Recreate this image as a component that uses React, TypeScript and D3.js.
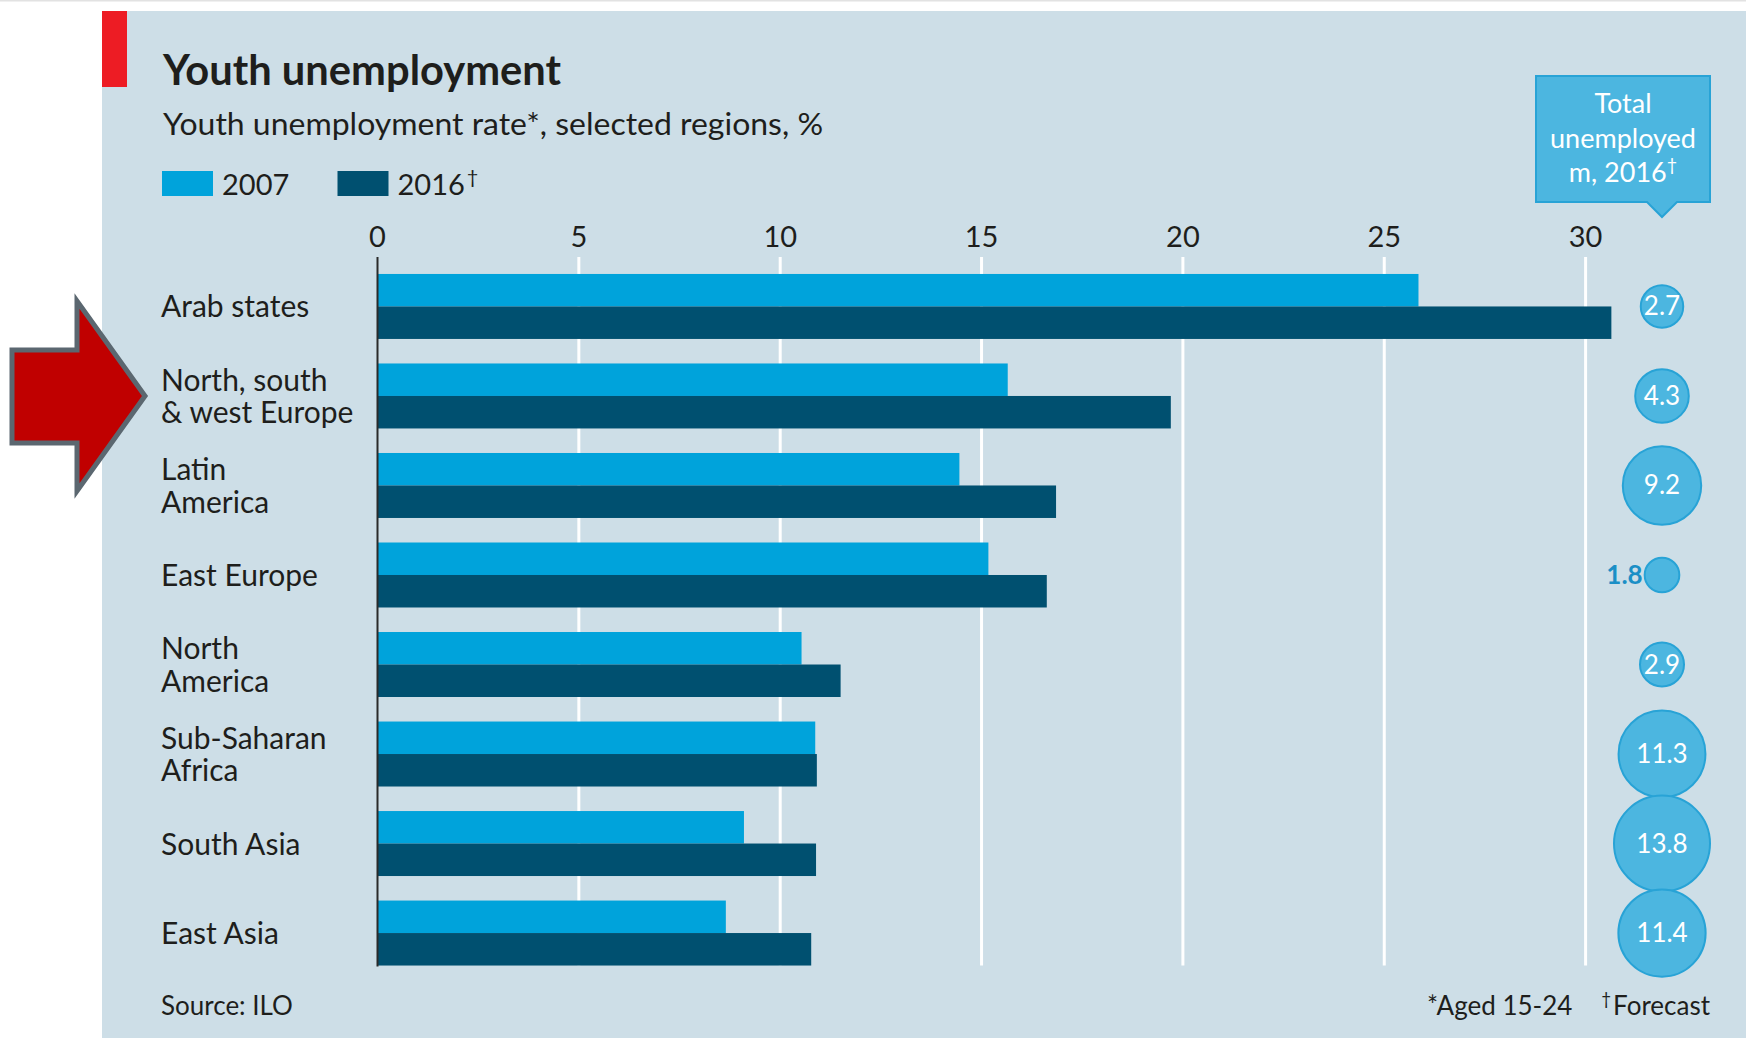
import { useRef, useEffect } from 'react';
import * as d3 from 'd3';

// Data
const regionLines: string[][] = [
  ['Arab states'],
  ['North, south', '& west Europe'],
  ['Latin', 'America'],
  ['East Europe'],
  ['North', 'America'],
  ['Sub-Saharan', 'Africa'],
  ['South Asia'],
  ['East Asia'],
];
const regions = regionLines.map(l => l.join(' '));
const series = ['2007', '2016'];
const rate2007 = [25.85, 15.65, 14.45, 15.17, 10.53, 10.87, 9.1, 8.65];
const rate2016 = [30.64, 19.7, 16.85, 16.62, 11.5, 10.91, 10.89, 10.77];
const totalUnemployed = [2.7, 4.3, 9.2, 1.8, 2.9, 11.3, 13.8, 11.4];
const xTicks = [0, 5, 10, 15, 20, 25, 30];

const W = 1746;
const H = 1038;
const FONT = 'Lato, "Liberation Sans", sans-serif';
const INK = '#1e1e1c';
const LIGHT = '#00a3db';
const DARK = '#005070';
const BUBBLE = '#4cb6e0';
const BUBBLE_EDGE = '#28a3d6';

export default function App() {
  const ref = useRef<SVGSVGElement>(null);

  useEffect(() => {
    if (!ref.current) return;
    const svg = d3.select(ref.current);
    svg.selectAll('*').remove();

    // background + panel
    svg.append('rect').attr('width', W).attr('height', H).attr('fill', '#fff');
    svg.append('line')
      .attr('x1', 0).attr('x2', W).attr('y1', 0.5).attr('y2', 0.5)
      .attr('stroke', '#e2e2e2').attr('stroke-width', 2);
    svg.append('rect')
      .attr('x', 102).attr('y', 11).attr('width', W - 102).attr('height', H - 11)
      .attr('fill', '#cddee7');
    svg.append('rect')
      .attr('x', 102).attr('y', 11).attr('width', 25).attr('height', 76)
      .attr('fill', '#ed1c24');

    // title block
    svg.append('text')
      .attr('x', 163).attr('y', 85)
      .attr('font-family', FONT).attr('font-weight', 700).attr('font-size', 42)
      .attr('fill', INK)
      .attr('textLength', 398).attr('lengthAdjust', 'spacingAndGlyphs')
      .text('Youth unemployment');
    svg.append('text')
      .attr('x', 163).attr('y', 135)
      .attr('font-family', FONT).attr('font-size', 31)
      .attr('fill', INK)
      .attr('textLength', 660).attr('lengthAdjust', 'spacingAndGlyphs')
      .text('Youth unemployment rate*, selected regions, %');

    // legend
    const legend = [
      { x: 162, label: '2007', color: LIGHT, dagger: false },
      { x: 337.5, label: '2016', color: DARK, dagger: true },
    ];
    legend.forEach(l => {
      svg.append('rect')
        .attr('x', l.x).attr('y', 171).attr('width', 51).attr('height', 25)
        .attr('fill', l.color);
      const t = svg.append('text')
        .attr('x', l.x + 60).attr('y', 195)
        .attr('font-family', FONT).attr('font-size', 29).attr('fill', INK)
        .text(l.label);
      if (l.dagger) {
        t.append('tspan').attr('dy', -11).attr('dx', 2).attr('font-size', 20).text('†');
      }
    });

    // scales
    const x = d3.scaleLinear().domain([0, 30]).range([377.5, 1585.6]);
    const y = d3.scaleBand<string>()
      .domain(regions)
      .range([261.7, 977.8])
      .paddingInner(0.274)
      .paddingOuter(0.137);
    const ySub = d3.scaleBand<string>().domain(series).range([0, y.bandwidth()]);
    const r = d3.scaleSqrt().domain([0, 13.8]).range([0, 48]);

    const gridTop = 257;
    const gridBottom = y(regions[regions.length - 1])! + y.bandwidth();

    // gridlines
    svg.append('g').selectAll('line')
      .data(xTicks.filter(d => d > 0))
      .enter()
      .append('line')
      .attr('x1', d => x(d)).attr('x2', d => x(d))
      .attr('y1', gridTop).attr('y2', gridBottom)
      .attr('stroke', '#ffffff').attr('stroke-width', 3);

    // tick labels
    svg.append('g').selectAll('text')
      .data(xTicks)
      .enter()
      .append('text')
      .attr('x', d => x(d)).attr('y', 247)
      .attr('text-anchor', 'middle')
      .attr('font-family', FONT).attr('font-size', 29).attr('fill', INK)
      .text(d => d);

    // bars
    const rows = regions.map((name, i) => ({ name, v: [rate2007[i], rate2016[i]] }));
    const barG = svg.append('g');
    rows.forEach(row => {
      series.forEach((s, j) => {
        barG.append('rect')
          .attr('x', x(0))
          .attr('y', y(row.name)! + ySub(s)!)
          .attr('width', x(row.v[j]) - x(0))
          .attr('height', ySub.bandwidth())
          .attr('fill', j === 0 ? LIGHT : DARK);
      });
    });

    // zero axis
    svg.append('line')
      .attr('x1', x(0)).attr('x2', x(0))
      .attr('y1', gridTop).attr('y2', gridBottom + 1)
      .attr('stroke', '#2a2a2a').attr('stroke-width', 2);

    // region labels
    regionLines.forEach((lines, i) => {
      const cy = y(regions[i])! + y.bandwidth() / 2;
      const lh = 32.5;
      const first = cy + 11 - ((lines.length - 1) * lh) / 2;
      lines.forEach((ln, k) => {
        svg.append('text')
          .attr('x', 161).attr('y', first + k * lh)
          .attr('font-family', FONT).attr('font-size', 30).attr('fill', INK)
          .text(ln);
      });
    });

    // bubbles
    const bx = 1662;
    regions.forEach((name, i) => {
      const cy = y(name)! + y.bandwidth() / 2;
      const v = totalUnemployed[i];
      svg.append('circle')
        .attr('cx', bx).attr('cy', cy).attr('r', r(v))
        .attr('fill', BUBBLE).attr('stroke', BUBBLE_EDGE).attr('stroke-width', 2);
      const small = r(v) < 20;
      svg.append('text')
        .attr('x', small ? bx - r(v) - 2 : bx)
        .attr('y', cy + 9)
        .attr('text-anchor', small ? 'end' : 'middle')
        .attr('font-family', FONT).attr('font-size', 26)
        .attr('font-weight', small ? 700 : 400)
        .attr('fill', small ? '#1b8fc6' : '#ffffff')
        .text(v.toFixed(1));
    });

    // callout box
    svg.append('path')
      .attr('d', 'M1536,76 H1710 V202 H1677 L1662,217 L1647,202 H1536 Z')
      .attr('fill', BUBBLE).attr('stroke', BUBBLE_EDGE).attr('stroke-width', 2);
    const callout = ['Total', 'unemployed', 'm, 2016'];
    callout.forEach((ln, k) => {
      const t = svg.append('text')
        .attr('x', 1623).attr('y', 113 + k * 34.5)
        .attr('text-anchor', 'middle')
        .attr('font-family', FONT).attr('font-size', 27).attr('fill', '#ffffff')
        .text(ln);
      if (k === 2) t.append('tspan').attr('dy', -11).attr('font-size', 18).text('†');
    });

    // footer
    svg.append('text')
      .attr('x', 161).attr('y', 1015)
      .attr('font-family', FONT).attr('font-size', 26).attr('fill', INK)
      .text('Source: ILO');
    svg.append('text')
      .attr('x', 1427).attr('y', 1015)
      .attr('font-family', FONT).attr('font-size', 26).attr('fill', INK)
      .text('*Aged 15-24');
    const fc = svg.append('text')
      .attr('x', 1710).attr('y', 1015).attr('text-anchor', 'end')
      .attr('font-family', FONT).attr('font-size', 26).attr('fill', INK);
    fc.append('tspan').attr('font-size', 17).attr('dy', -10).text('†');
    fc.append('tspan').attr('dy', 10).attr('dx', 2).text('Forecast');

    // red pointer arrow (annotation)
    svg.append('polygon')
      .attr('points', '12,350 77,350 77,301 145,396 77,491 77,443 12,443')
      .attr('fill', '#c00000')
      .attr('stroke', '#5b6770')
      .attr('stroke-width', 5)
      .attr('stroke-linejoin', 'miter');
  }, []);

  return (
    <div style={{ position: 'absolute', left: 0, top: 0 }}>
      <svg ref={ref} width={W} height={H} style={{ display: 'block' }} />
    </div>
  );
}
